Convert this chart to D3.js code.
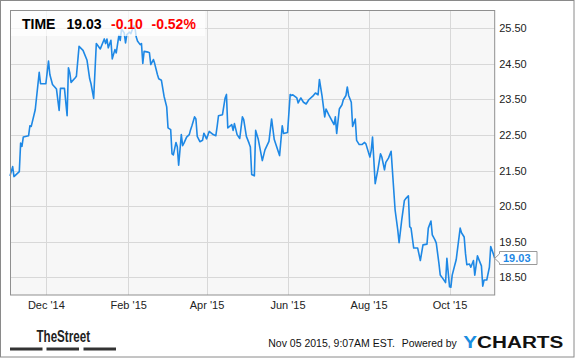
<!DOCTYPE html>
<html>
<head>
<meta charset="utf-8">
<script src="https://cdn.jsdelivr.net/npm/d3@7"></script>
<style>
  body { margin: 0; background: #fff; }
  text { font-family: "Liberation Sans", Arial, sans-serif; }
</style>
</head>
<body>
<div id="chart"></div>
<script>
// TIME closing prices, one year
const startDate = new Date(2014, 10, 4);
const endDate = new Date(2015, 10, 4);

// days since startDate for each point
const dayOffsets = [
  0, 2, 3, 7, 8, 9, 10, 14, 15, 16, 19, 22, 23, 27, 29, 30, 32, 35, 37, 38,
  41, 43, 44, 45, 46, 49, 50, 52, 55, 58, 60, 61, 63, 65, 68, 71, 72, 73, 74, 76,
  77, 79, 80, 82, 83, 84, 86, 87, 88, 90, 91, 93, 94, 95, 96, 98, 99, 100, 101, 104,
  105, 106, 108, 109, 111, 112, 114, 116, 118, 119, 121, 122, 123, 125, 126, 127, 129, 130, 131, 133,
  135, 136, 137, 139, 140, 141, 143, 145, 146, 148, 150, 153, 155, 156, 157, 160, 162, 163, 164, 167,
  168, 169, 171, 173, 175, 176, 178, 180, 181, 182, 184, 185, 187, 190, 192, 195, 197, 199, 203, 205,
  206, 209, 211, 212, 213, 216, 217, 219, 221, 223, 225, 228, 230, 232, 233, 235, 237, 238, 240, 242,
  244, 245, 246, 248, 250, 251, 253, 254, 255, 257, 258, 260, 261, 263, 265, 267, 268, 271, 272, 273,
  275, 277, 279, 280, 282, 283, 285, 287, 290, 292, 293, 295, 297, 298, 300, 301, 302, 304, 307, 309,
  311, 314, 315, 317, 318, 320, 321, 323, 324, 326, 328, 329, 331, 332, 333, 335, 336, 339, 340, 342,
  343, 344, 346, 347, 349, 350, 352, 354, 355, 356, 357, 359, 361, 362, 364, 365
];

const closes = [
  21.35, 21.61, 21.33, 21.47, 22.27, 22.18, 22.44, 22.48, 22.76, 22.74, 23.21, 24.26, 23.94, 23.94, 24.58, 24.20, 23.92, 23.79, 23.19, 23.81,
  23.81, 23.04, 24.39, 24.25, 23.98, 24.10, 24.15, 24.99, 24.88, 24.60, 24.08, 23.94, 23.53, 25.07, 24.92, 25.20, 25.07, 25.20, 24.95, 25.16,
  24.64, 24.90, 24.81, 25.30, 25.16, 25.48, 25.37, 25.09, 25.32, 25.39, 25.35, 25.56, 25.56, 25.26, 25.14, 25.04, 25.07, 24.51, 24.85, 24.83,
  24.81, 24.48, 24.62, 24.50, 24.20, 24.08, 24.04, 23.59, 23.29, 22.70, 22.65, 21.97, 21.94, 22.29, 22.16, 21.65, 22.51, 22.20, 22.27, 22.44,
  22.51, 22.65, 22.76, 23.01, 22.95, 22.46, 22.31, 22.35, 22.55, 22.39, 22.60, 22.51, 22.48, 22.74, 23.04, 23.07, 23.54, 23.64, 22.70, 22.79,
  22.63, 22.82, 22.51, 22.40, 23.01, 22.93, 22.46, 22.27, 22.16, 21.39, 21.35, 22.63, 22.37, 21.78, 22.08, 22.32, 22.95, 22.37, 21.92, 22.76,
  22.54, 22.57, 23.64, 23.61, 23.63, 23.54, 23.40, 23.54, 23.42, 23.37, 23.49, 23.59, 23.68, 23.63, 24.06, 23.59, 23.01, 23.23, 23.07, 22.93,
  22.79, 23.01, 22.54, 23.23, 23.35, 23.49, 23.61, 23.85, 23.61, 23.42, 22.74, 22.95, 22.35, 22.23, 22.23, 22.29, 22.25, 21.88, 22.06, 22.44,
  21.13, 21.52, 21.97, 21.88, 21.52, 21.73, 21.85, 22.04, 20.39, 19.83, 19.47, 20.11, 20.66, 20.71, 20.79, 19.92, 19.88, 19.32, 19.32, 18.97,
  19.41, 19.43, 19.88, 20.08, 19.69, 19.55, 19.46, 18.89, 18.56, 18.46, 18.35, 19.03, 18.23, 18.22, 18.56, 18.85, 18.99, 19.88, 19.75, 19.63,
  19.17, 18.85, 18.87, 18.78, 18.97, 18.56, 19.10, 18.91, 18.82, 18.25, 18.42, 18.42, 18.78, 19.36, 19.15, 19.03
];

const yTicks = [18.5, 19.5, 20.5, 21.5, 22.5, 23.5, 24.5, 25.5];
const xTicks = [
  new Date(2014, 11, 1), new Date(2015, 1, 1), new Date(2015, 3, 1),
  new Date(2015, 5, 1), new Date(2015, 7, 1), new Date(2015, 9, 1)
];
const ticker = "TIME";
const lastPrice = "19.03";
const change = "-0.10";
const changePct = "-0.52%";
const stamp = "Nov 05 2015, 9:07AM EST.";

const width = 575;
const height = 358;
const plotLeft = 10, plotRight = 494.7, plotTop = 10.5, plotBottom = 295;
const blue = "#1e88e5";

const data = dayOffsets.map((d, i) => ({
  date: d3.timeDay.offset(startDate, d),
  value: closes[i]
}));

const x = d3.scaleTime().domain([startDate, endDate]).range([plotLeft, plotRight]);
const y = d3.scaleLinear().domain([18, 26]).range([plotBottom, plotTop]);

const svg = d3
  .select("#chart")
  .append("svg")
  .attr("width", width)
  .attr("height", height);

// outer frame
svg
  .append("rect")
  .attr("x", 0.5)
  .attr("y", 0.5)
  .attr("width", 573.5)
  .attr("height", 356.5)
  .attr("fill", "#fff")
  .attr("stroke", "#8a8a8a");

// plot area
svg
  .append("rect")
  .attr("x", plotLeft)
  .attr("y", plotTop)
  .attr("width", plotRight - plotLeft)
  .attr("height", plotBottom - plotTop)
  .attr("fill", "#f7f7f7");

// grid
svg
  .append("g")
  .selectAll("line")
  .data(yTicks)
  .join("line")
  .attr("x1", plotLeft)
  .attr("x2", plotRight)
  .attr("y1", (d) => Math.round(y(d)) + 0.5)
  .attr("y2", (d) => Math.round(y(d)) + 0.5)
  .attr("stroke", "#d8d8d8");

svg
  .append("g")
  .selectAll("line")
  .data(xTicks)
  .join("line")
  .attr("x1", (d) => Math.round(x(d)) + 0.5)
  .attr("x2", (d) => Math.round(x(d)) + 0.5)
  .attr("y1", plotTop)
  .attr("y2", plotBottom)
  .attr("stroke", "#d8d8d8");

// price line
const line = d3
  .line()
  .x((d) => x(d.date))
  .y((d) => y(d.value));

svg
  .append("path")
  .datum(data)
  .attr("d", line)
  .attr("fill", "none")
  .attr("stroke", blue)
  .attr("stroke-width", 1.6)
  .attr("stroke-linejoin", "round");

// plot border
svg
  .append("rect")
  .attr("x", plotLeft + 0.5)
  .attr("y", plotTop)
  .attr("width", plotRight - plotLeft - 0.5)
  .attr("height", plotBottom - plotTop)
  .attr("fill", "none")
  .attr("stroke", "#8f8f8f");

// axes
const yAxis = svg
  .append("g")
  .attr("transform", `translate(${plotRight},0)`)
  .call(d3.axisRight(y).tickValues(yTicks).tickFormat(d3.format(".2f")).tickSize(0).tickPadding(4.5));
yAxis.select(".domain").remove();
yAxis.selectAll("text").attr("font-size", 11).attr("fill", "#222").style("font-family", "Liberation Sans, Arial, sans-serif");

const xAxis = svg
  .append("g")
  .attr("transform", `translate(0,${plotBottom})`)
  .call(d3.axisBottom(x).tickValues(xTicks).tickFormat(d3.timeFormat("%b '%y")).tickSize(0).tickPadding(6));
xAxis.select(".domain").remove();
xAxis.selectAll("text").attr("font-size", 11).attr("fill", "#222").style("font-family", "Liberation Sans, Arial, sans-serif");

// header box
svg
  .append("rect")
  .attr("x", plotLeft + 1)
  .attr("y", plotTop + 0.5)
  .attr("width", 194)
  .attr("height", 25)
  .attr("fill", "#fff")
  .attr("opacity", 0.72);

const header = svg
  .append("g")
  .attr("font-size", 14)
  .attr("font-weight", "bold");
header.append("text").attr("x", 22).attr("y", 28.5).attr("fill", "#000").text(ticker);
header.append("text").attr("x", 66.5).attr("y", 28.5).attr("fill", "#000").text(lastPrice);
header.append("text").attr("x", 111).attr("y", 28.5).attr("fill", "#f00").text(change);
header.append("text").attr("x", 151.5).attr("y", 28.5).attr("fill", "#f00").text(changePct);

// last value flag
const last = data[data.length - 1];
const ly = y(last.value);
svg
  .append("path")
  .attr("d", `M${plotRight},${ly} L499.5,${ly - 4.5} L499.5,251.5 L537,251.5 L537,264.5 L499.5,264.5 L499.5,${ly + 4.5} Z`)
  .attr("fill", "#fff")
  .attr("stroke", "#999");
svg
  .append("text")
  .attr("x", 503)
  .attr("y", 262)
  .attr("font-size", 11)
  .attr("font-weight", "bold")
  .attr("fill", blue)
  .text(lastPrice);

// footer
svg
  .append("text")
  .attr("x", 36.5)
  .attr("y", 341.5)
  .attr("font-size", 16)
  .attr("font-weight", "bold")
  .attr("textLength", 53.5)
  .attr("lengthAdjust", "spacingAndGlyphs")
  .style("font-family", "Liberation Sans Narrow, Arial Narrow, sans-serif")
  .attr("fill", "#222")
  .text("TheStreet");

svg
  .append("g")
  .selectAll("rect")
  .data([10, 46.5, 83.5])
  .join("rect")
  .attr("x", (d) => d)
  .attr("y", 347.5)
  .attr("width", 32.5)
  .attr("height", 3)
  .attr("fill", "#333");

svg
  .append("text")
  .attr("x", 268.3)
  .attr("y", 347.3)
  .attr("font-size", 11)
  .attr("fill", "#111")
  .attr("textLength", 126.5)
  .attr("lengthAdjust", "spacingAndGlyphs")
  .text(stamp);
svg
  .append("text")
  .attr("x", 401.7)
  .attr("y", 347.3)
  .attr("font-size", 11)
  .attr("fill", "#111")
  .attr("textLength", 55)
  .attr("lengthAdjust", "spacingAndGlyphs")
  .text("Powered by");

const brand = svg
  .append("text")
  .attr("x", 463.3)
  .attr("y", 348)
  .attr("font-size", 16)
  .attr("font-weight", "bold")
  .attr("textLength", 100)
  .attr("lengthAdjust", "spacingAndGlyphs");
brand.append("tspan").attr("fill", "#1a8ee0").text("Y");
brand.append("tspan").attr("fill", "#111").text("CHARTS");
</script>
</body>
</html>
